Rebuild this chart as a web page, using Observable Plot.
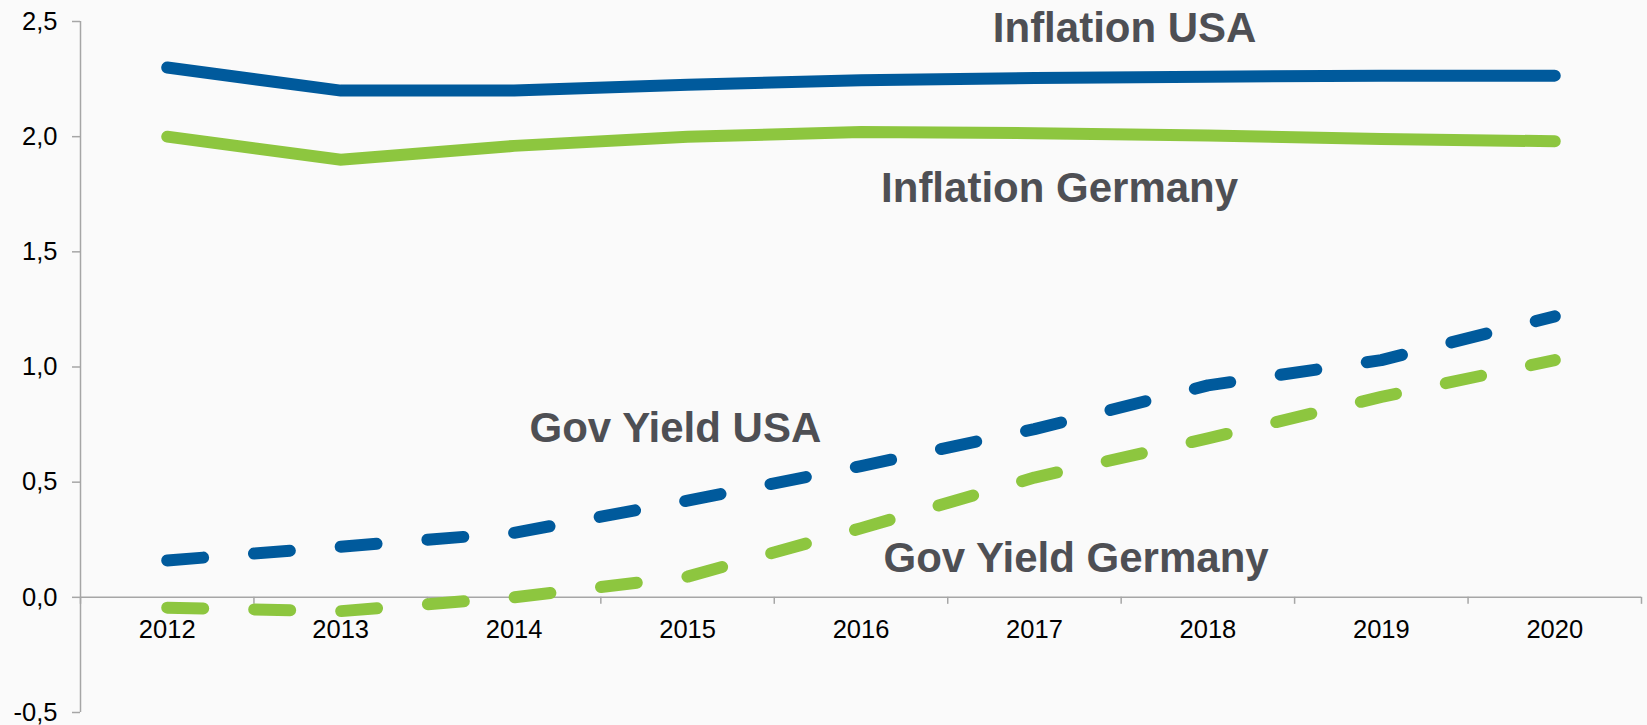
<!DOCTYPE html>
<html>
<head>
<meta charset="utf-8">
<script src="https://cdn.jsdelivr.net/npm/d3@7"></script>
<script src="https://cdn.jsdelivr.net/npm/@observablehq/plot@0.6"></script>
<style>
  html, body { margin: 0; padding: 0; background: #fafafa; }
  #chart { width: 1647px; height: 725px; }
</style>
</head>
<body>
<div id="chart"></div>
<script>
// ---- data ----
const years = [2012, 2013, 2014, 2015, 2016, 2017, 2018, 2019, 2020];
const inflationUSA     = [2.30, 2.20, 2.20, 2.225, 2.245, 2.255, 2.26, 2.265, 2.265];
const inflationGermany = [2.00, 1.90, 1.96, 2.00, 2.02, 2.015, 2.005, 1.99, 1.98];
const govYieldUSA      = [0.16, 0.22, 0.28, 0.42, 0.57, 0.73, 0.92, 1.03, 1.22];
const govYieldGermany  = [-0.045, -0.06, 0.00, 0.09, 0.30, 0.52, 0.69, 0.87, 1.03];
const yTicks = [-0.5, 0, 0.5, 1, 1.5, 2, 2.5];
const seriesNames = ["Inflation USA", "Inflation Germany", "Gov Yield USA", "Gov Yield Germany"];
// label anchor positions in data units (year, value)
const labelYear  = [2017.52, 2017.145, 2014.93, 2017.24];
const labelValue = [2.468, 1.774, 0.732, 0.168];

// ---- derived tables ----
const BLUE = "#005a9c", GREEN = "#8dc63f", AXIS = "#a6a6a6", LABEL = "#4e4f54";
const toRows = (vals) => years.map((yr, i) => ({year: yr, value: vals[i]}));
const boundaries = years.map(y => y - 0.5).concat([years[years.length - 1] + 0.5]);
const labels = seriesNames.map((name, i) => ({name, year: labelYear[i], value: labelValue[i]}));
const fmt = d => d.toFixed(1).replace(".", ",");
const FONT = "'Liberation Sans', Arial, Helvetica, sans-serif";

const xMin = years[0] - 0.5, xMax = years[years.length - 1] + 0.5;

const chart = Plot.plot({
  width: 1647,
  height: 725,
  marginLeft: 80,
  marginRight: 6,
  marginTop: 21,
  marginBottom: 13,
  style: {background: "#fafafa", fontFamily: FONT, overflow: "visible"},
  x: {type: "linear", domain: [xMin, xMax], axis: null},
  y: {domain: [-0.5, 2.5], axis: null},
  marks: [
    // y axis line and ticks
    Plot.ruleX([xMin], {stroke: AXIS, strokeWidth: 1.5}),
    Plot.ruleY(yTicks, {y: d => d, x1: xMin, x2: xMin, insetLeft: -8, stroke: AXIS, strokeWidth: 1.5}),
    Plot.text(yTicks, {x: xMin, y: d => d, text: fmt, textAnchor: "end", dx: -23, fontSize: 25.5, fill: "#000"}),
    // x axis line at zero, boundary ticks, year labels
    Plot.ruleY([0], {stroke: AXIS, strokeWidth: 1.5}),
    Plot.ruleX(boundaries, {x: d => d, y1: 0, y2: 0, insetBottom: -7, stroke: AXIS, strokeWidth: 1.5}),
    Plot.text(years, {x: d => d, y: 0, text: d => String(d), dy: 32, fontSize: 25.5, fill: "#000"}),
    // series
    Plot.line(toRows(inflationUSA), {x: "year", y: "value", stroke: BLUE, strokeWidth: 12, strokeLinecap: "round", strokeLinejoin: "miter", strokeMiterlimit: 10}),
    Plot.line(toRows(inflationGermany), {x: "year", y: "value", stroke: GREEN, strokeWidth: 12, strokeLinecap: "round", strokeLinejoin: "miter", strokeMiterlimit: 10}),
    Plot.line(toRows(govYieldUSA), {x: "year", y: "value", stroke: BLUE, strokeWidth: 12, strokeLinecap: "round", strokeDasharray: "36,51"}),
    Plot.line(toRows(govYieldGermany), {x: "year", y: "value", stroke: GREEN, strokeWidth: 12, strokeLinecap: "round", strokeDasharray: "36,51"}),
    // series labels
    Plot.text(labels, {x: "year", y: "value", text: "name", fontSize: 42, fontWeight: "bold", fill: LABEL})
  ]
});
document.getElementById("chart").appendChild(chart);
</script>
</body>
</html>
